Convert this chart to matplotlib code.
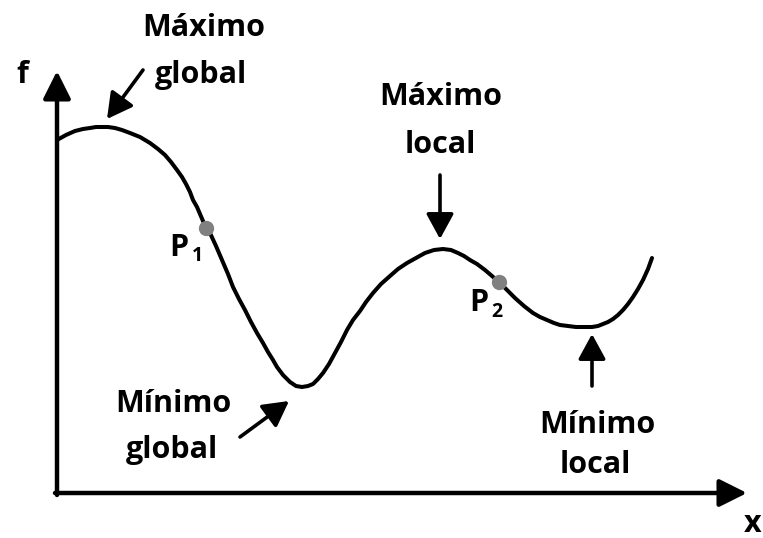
import matplotlib
matplotlib.use("Agg")
import matplotlib.pyplot as plt
import numpy as np

plt.rcParams["font.family"] = ["Open Sans", "DejaVu Sans"]

# Curve (pixel coordinates, y downwards)
curve_x = [57, 66, 75, 83, 90, 96, 102, 108, 115, 122, 130, 140, 150, 158,
           165, 171, 177, 182, 186, 190, 193, 197, 200, 203, 206,
           210, 216, 222, 228, 233, 239, 245, 251, 257, 263, 268, 273, 277,
           283, 290, 296, 302, 308, 313, 318, 323, 329, 335, 341, 347,
           353, 360, 366, 373, 381, 390, 398, 407, 416, 425, 434, 443, 451,
           458, 464, 470, 477, 485, 492, 499, 507, 515, 524, 533, 540, 547,
           554, 560, 568, 576, 584, 592, 598, 603, 608, 613, 618, 623, 628,
           633, 638, 643, 648, 652]
curve_y = [140, 135, 131, 129, 128, 127, 127, 127, 128, 130, 133, 137, 143,
           149, 155, 162, 170, 177, 184, 192, 200, 207, 214, 221, 227,
           233, 246, 260, 274, 287, 299, 310, 322, 333, 343, 352, 360, 367,
           375, 382, 386, 387, 386, 384, 379, 373, 364, 353, 342, 330,
           320, 311, 302, 293, 284, 276, 269, 263, 258, 253, 250, 249, 250,
           253, 256, 260, 264, 270, 276, 282, 290, 298, 306, 313, 317, 320,
           323, 325, 326, 327, 327, 327, 326, 324, 322, 319, 315, 310, 304,
           297, 289, 280, 269, 258]

# Marked points P1, P2
pts_x = [206, 499]
pts_y = [228, 282]

# Labels: (text, x centre, baseline)
labels = [
    ("Máximo", 204, 36), ("global", 201, 83),
    ("Máximo", 441, 105), ("local", 440, 153),
    ("Mínimo", 173, 412), ("global", 172, 458),
    ("Mínimo", 597, 433), ("local", 595, 473),
]

# Arrows: (tail, tip)
arrows = [
    ((143, 70), (107, 119)),
    ((440, 175), (440, 239)),
    ((240, 437), (289, 401)),
    ((592, 386), (592, 334)),
]

fig = plt.figure(figsize=(7.63, 5.38), dpi=100)
ax = fig.add_axes([0, 0, 1, 1])
ax.set_xlim(0, 763)
ax.set_ylim(538, 0)
ax.axis("off")

# axes with arrow heads
ax.annotate("", xy=(57, 71), xytext=(57, 495),
            arrowprops=dict(arrowstyle="-|>,head_length=1.2,head_width=0.6",
                            mutation_scale=14, lw=3.2, color="black",
                            shrinkA=0, shrinkB=0))
ax.annotate("", xy=(747, 493), xytext=(55, 493),
            arrowprops=dict(arrowstyle="-|>,head_length=1.2,head_width=0.6",
                            mutation_scale=14, lw=3.2, color="black",
                            shrinkA=0, shrinkB=0))

ax.plot(curve_x, curve_y, color="black", lw=2.9,
        solid_joinstyle="round", solid_capstyle="round")
ax.plot(pts_x, pts_y, "o", color="#808080", markersize=10, zorder=3)

for (tx, ty), (hx, hy) in arrows:
    ax.annotate("", xy=(hx, hy), xytext=(tx, ty),
                arrowprops=dict(arrowstyle="-|>,head_length=1.1,head_width=0.6",
                                mutation_scale=14, lw=2.6, color="black",
                                shrinkA=0, shrinkB=0))

for txt, x, y in labels:
    ax.text(x, y, txt, ha="center", va="baseline", fontsize=22,
            fontweight="bold")

ax.text(22, 83, "f", ha="center", va="baseline", fontsize=22, fontweight="bold")
ax.text(753, 532, "x", ha="center", va="baseline", fontsize=22, fontweight="bold")

# P1, P2 with subscripts
ax.text(179, 256, "P", ha="center", va="baseline", fontsize=22, fontweight="bold")
ax.text(197.5, 261, "1", ha="center", va="baseline", fontsize=14, fontweight="bold")
ax.text(479, 311, "P", ha="center", va="baseline", fontsize=22, fontweight="bold")
ax.text(496.5, 317, "2", ha="center", va="baseline", fontsize=14, fontweight="bold")

fig.savefig("out.png", dpi=100)
